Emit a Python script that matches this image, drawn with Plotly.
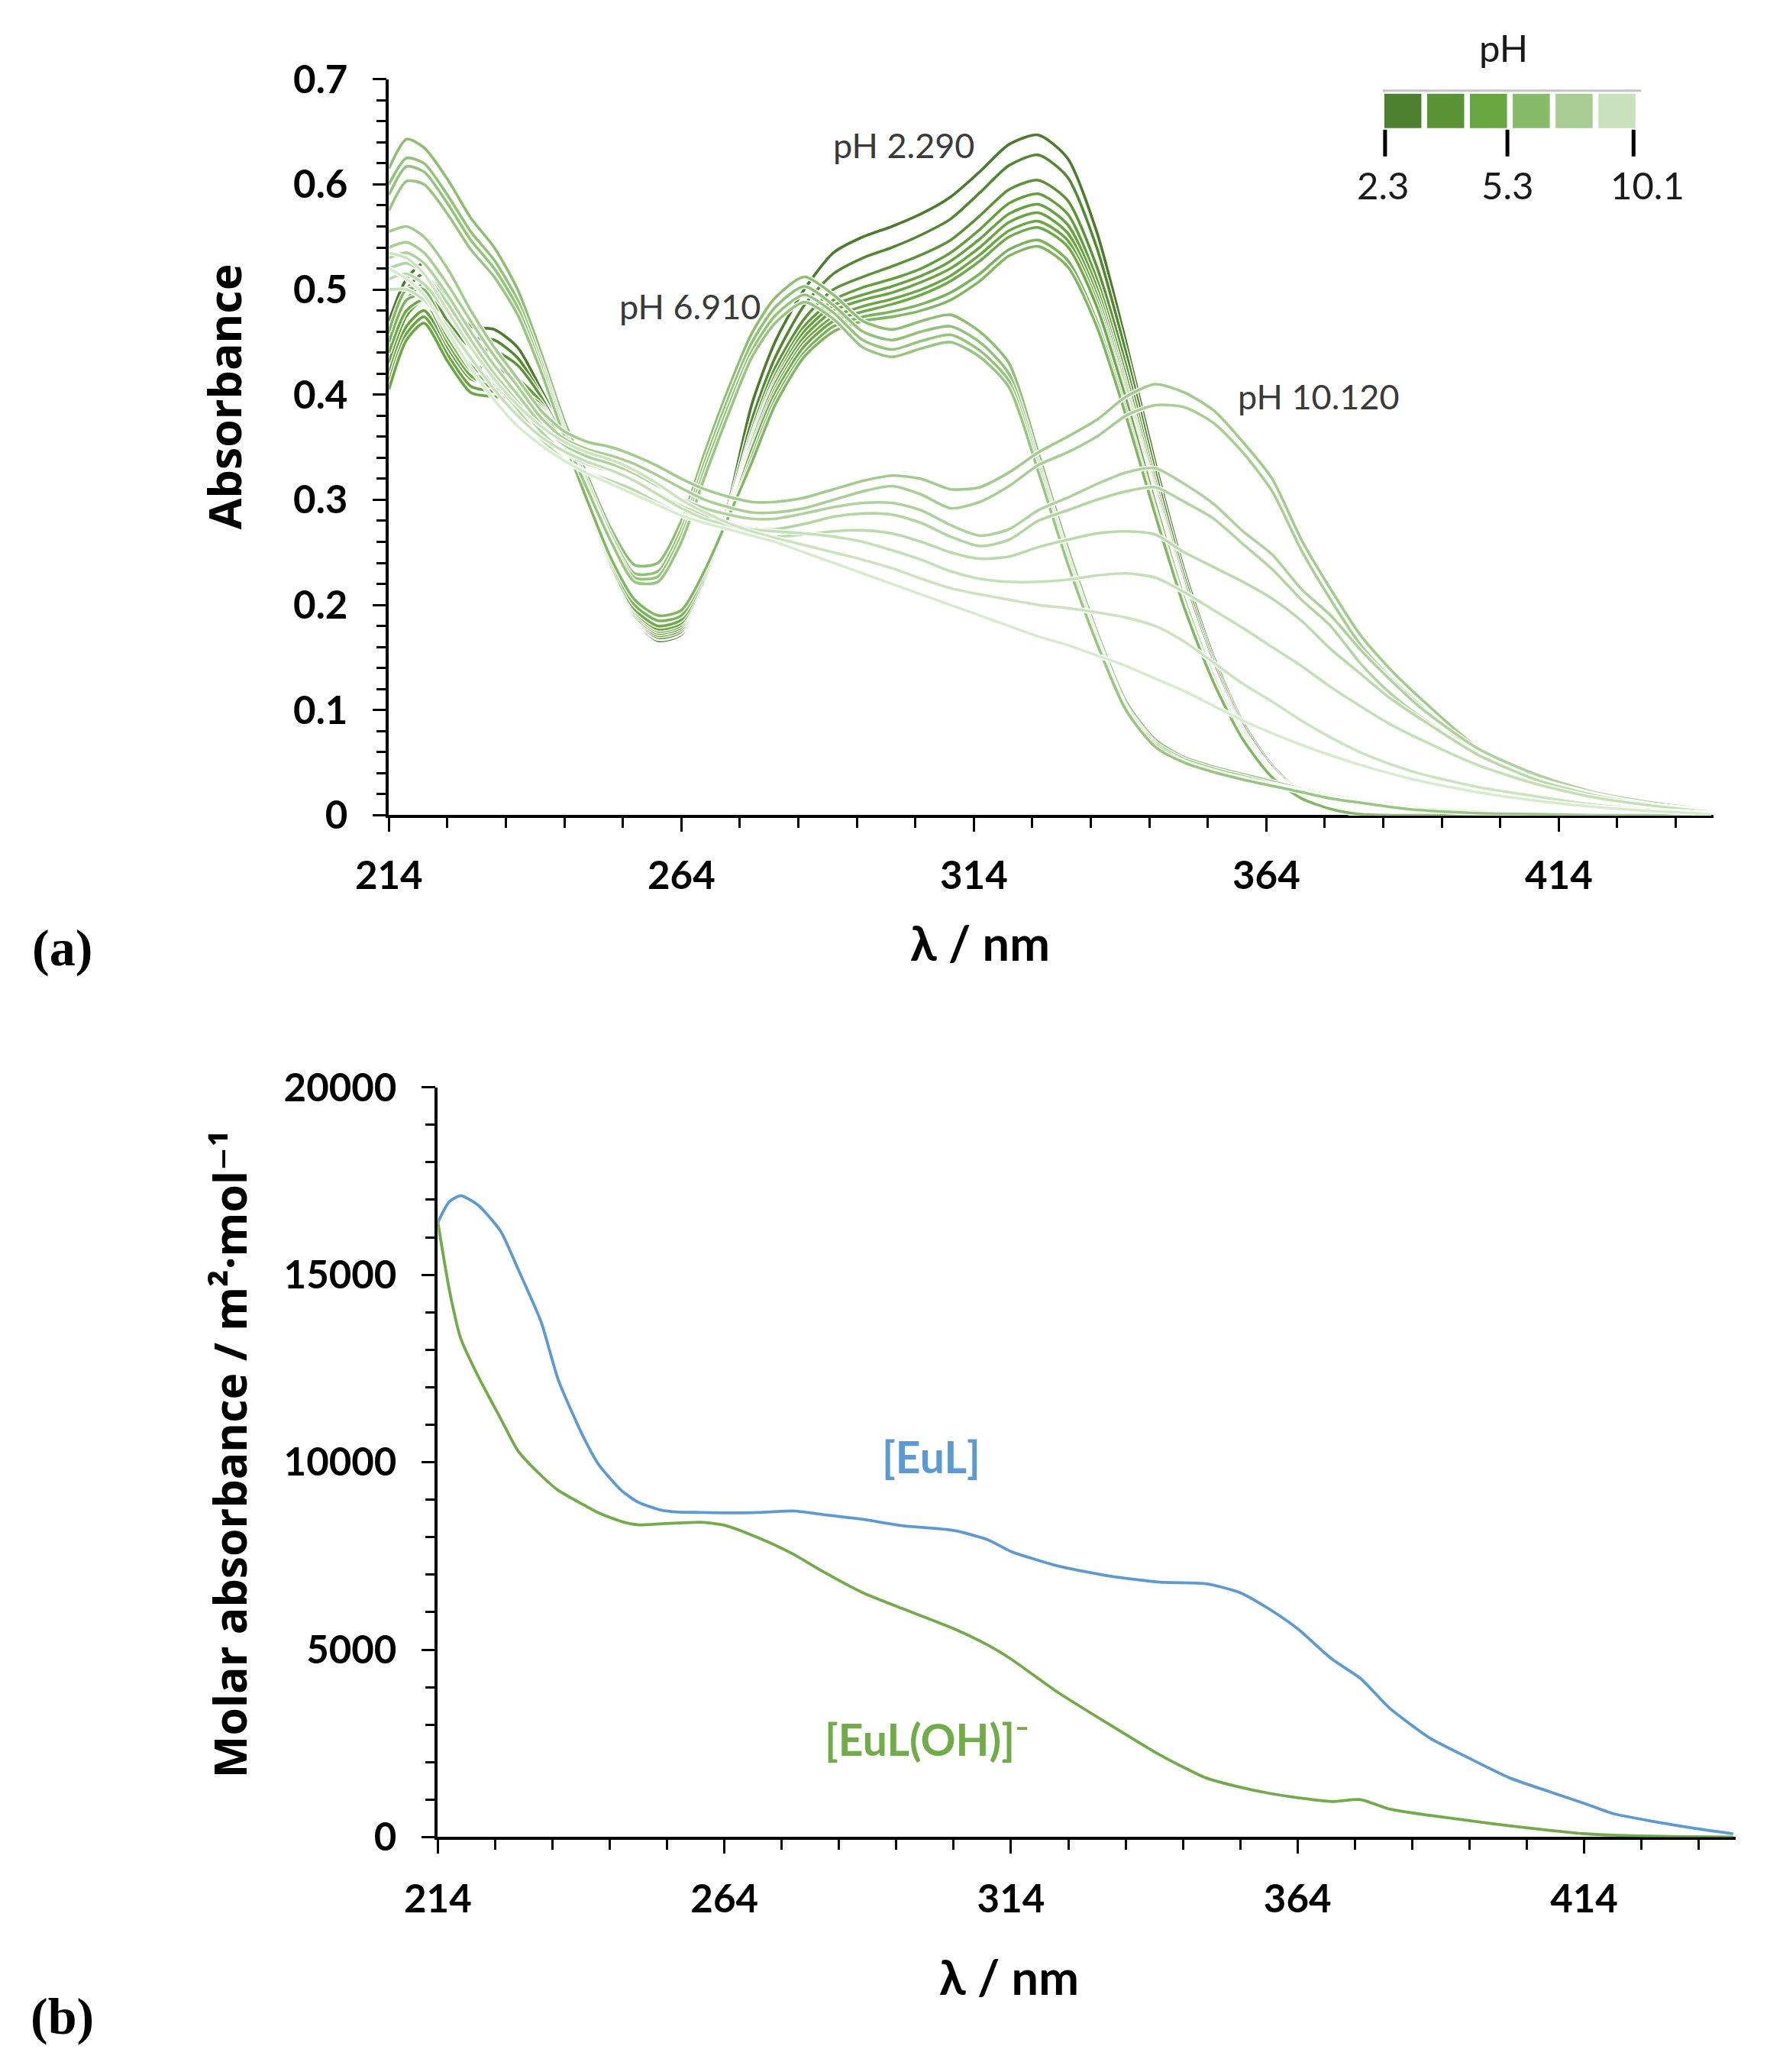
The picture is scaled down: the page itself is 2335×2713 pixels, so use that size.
import plotly.graph_objects as go

FIG_W, FIG_H = 2335, 2713

# ---------------- panel (a): absorbance vs wavelength at different pH ----------------
wavelength_a = [214, 217, 220, 224, 228, 232, 236, 240, 244, 248, 252, 256, 260, 264, 268, 272,
                276, 280, 285, 290, 295, 300, 305, 310, 315, 320, 325, 330, 335, 340, 345, 350,
                355, 360, 365, 370, 375, 380, 385, 390, 400, 410, 420, 430, 440]

# acidic spectra (pH 2.29 ... ~6)
abs_a1 = [0.470, 0.510, 0.525, 0.490, 0.465, 0.462, 0.445, 0.405, 0.360, 0.295, 0.232, 0.186, 0.166, 0.172, 0.222, 0.295,
          0.390, 0.450, 0.500, 0.535, 0.550, 0.560, 0.572, 0.588, 0.612, 0.638, 0.647, 0.625, 0.555, 0.450, 0.335, 0.232,
          0.150, 0.088, 0.047, 0.021, 0.008, 0.002, 0, 0, 0, 0, 0, 0, 0]
abs_a2 = [0.458, 0.500, 0.515, 0.480, 0.455, 0.452, 0.435, 0.400, 0.357, 0.293, 0.231, 0.187, 0.168, 0.174, 0.222, 0.290,
          0.375, 0.435, 0.485, 0.515, 0.530, 0.540, 0.552, 0.567, 0.592, 0.618, 0.628, 0.607, 0.540, 0.440, 0.327, 0.226,
          0.146, 0.085, 0.045, 0.020, 0.008, 0.002, 0, 0, 0, 0, 0, 0, 0]
abs_a3 = [0.445, 0.490, 0.505, 0.470, 0.445, 0.442, 0.428, 0.398, 0.355, 0.292, 0.231, 0.188, 0.169, 0.175, 0.221, 0.287,
          0.365, 0.425, 0.472, 0.500, 0.512, 0.522, 0.533, 0.547, 0.570, 0.595, 0.604, 0.585, 0.522, 0.428, 0.318, 0.220,
          0.142, 0.082, 0.043, 0.019, 0.007, 0.002, 0, 0, 0, 0, 0, 0, 0]
abs_a4 = [0.430, 0.475, 0.490, 0.455, 0.428, 0.425, 0.415, 0.393, 0.353, 0.292, 0.232, 0.189, 0.171, 0.177, 0.222, 0.286,
          0.360, 0.418, 0.465, 0.490, 0.502, 0.510, 0.520, 0.535, 0.557, 0.582, 0.591, 0.572, 0.510, 0.418, 0.312, 0.215,
          0.138, 0.080, 0.042, 0.019, 0.007, 0.002, 0, 0, 0, 0, 0, 0, 0]
abs_a5 = [0.420, 0.465, 0.480, 0.445, 0.415, 0.410, 0.405, 0.390, 0.352, 0.292, 0.233, 0.190, 0.173, 0.179, 0.223, 0.285,
          0.357, 0.413, 0.460, 0.485, 0.495, 0.503, 0.513, 0.527, 0.548, 0.572, 0.581, 0.562, 0.502, 0.410, 0.307, 0.212,
          0.136, 0.079, 0.041, 0.018, 0.007, 0.002, 0, 0, 0, 0, 0, 0, 0]
abs_a6 = [0.412, 0.458, 0.474, 0.438, 0.408, 0.403, 0.400, 0.388, 0.351, 0.292, 0.234, 0.192, 0.175, 0.181, 0.224, 0.284,
          0.354, 0.410, 0.455, 0.480, 0.490, 0.497, 0.507, 0.520, 0.540, 0.564, 0.573, 0.554, 0.495, 0.405, 0.303, 0.209,
          0.134, 0.077, 0.040, 0.018, 0.006, 0.001, 0, 0, 0, 0, 0, 0, 0]
abs_a7 = [0.405, 0.452, 0.468, 0.432, 0.402, 0.398, 0.397, 0.386, 0.350, 0.293, 0.236, 0.194, 0.177, 0.183, 0.225, 0.283,
          0.350, 0.405, 0.450, 0.474, 0.484, 0.491, 0.500, 0.513, 0.533, 0.556, 0.565, 0.547, 0.489, 0.400, 0.300, 0.207,
          0.132, 0.076, 0.039, 0.017, 0.006, 0.001, 0, 0, 0, 0, 0, 0, 0]
abs_a8 = [0.440, 0.480, 0.490, 0.450, 0.418, 0.406, 0.400, 0.386, 0.351, 0.294, 0.238, 0.196, 0.180, 0.186, 0.227, 0.282,
          0.347, 0.401, 0.446, 0.470, 0.479, 0.486, 0.495, 0.508, 0.527, 0.550, 0.559, 0.541, 0.484, 0.396, 0.297, 0.205,
          0.131, 0.075, 0.038, 0.017, 0.006, 0.001, 0, 0, 0, 0, 0, 0, 0]
abs_a9 = [0.450, 0.490, 0.495, 0.455, 0.423, 0.410, 0.402, 0.385, 0.352, 0.296, 0.241, 0.200, 0.185, 0.190, 0.230, 0.282,
          0.340, 0.395, 0.440, 0.465, 0.474, 0.479, 0.486, 0.497, 0.515, 0.538, 0.547, 0.528, 0.470, 0.385, 0.290, 0.200,
          0.128, 0.073, 0.037, 0.016, 0.006, 0.001, 0, 0, 0, 0, 0, 0, 0]
abs_a10 = [0.460, 0.500, 0.500, 0.460, 0.428, 0.413, 0.403, 0.384, 0.353, 0.298, 0.244, 0.205, 0.190, 0.195, 0.233, 0.283,
           0.335, 0.390, 0.436, 0.460, 0.470, 0.474, 0.480, 0.490, 0.508, 0.532, 0.541, 0.522, 0.465, 0.380, 0.286, 0.197,
           0.126, 0.072, 0.036, 0.016, 0.006, 0.001, 0, 0, 0, 0, 0, 0, 0]

# near-neutral spectra (pH ~6.9)
abs_i1 = [0.615, 0.643, 0.635, 0.605, 0.568, 0.540, 0.500, 0.440, 0.375, 0.322, 0.272, 0.238, 0.240, 0.280, 0.345, 0.405,
          0.458, 0.492, 0.512, 0.495, 0.470, 0.462, 0.470, 0.476, 0.460, 0.430, 0.345, 0.255, 0.175, 0.108, 0.072, 0.055,
          0.046, 0.039, 0.032, 0.025, 0.019, 0.014, 0.010, 0.007, 0.003, 0.001, 0, 0, 0]
abs_i2 = [0.600, 0.625, 0.620, 0.590, 0.555, 0.528, 0.490, 0.432, 0.368, 0.316, 0.266, 0.230, 0.232, 0.272, 0.336, 0.396,
          0.449, 0.483, 0.503, 0.485, 0.460, 0.452, 0.460, 0.465, 0.450, 0.420, 0.337, 0.248, 0.170, 0.104, 0.069, 0.053,
          0.044, 0.037, 0.030, 0.024, 0.018, 0.013, 0.009, 0.006, 0.003, 0.001, 0, 0, 0]
abs_i3 = [0.590, 0.617, 0.612, 0.582, 0.547, 0.520, 0.483, 0.427, 0.364, 0.312, 0.262, 0.226, 0.227, 0.266, 0.329, 0.388,
          0.441, 0.475, 0.495, 0.478, 0.452, 0.443, 0.451, 0.457, 0.442, 0.413, 0.332, 0.244, 0.167, 0.102, 0.067, 0.051,
          0.042, 0.035, 0.029, 0.023, 0.017, 0.012, 0.008, 0.006, 0.003, 0.001, 0, 0, 0]
abs_i4 = [0.575, 0.603, 0.600, 0.572, 0.538, 0.512, 0.476, 0.422, 0.360, 0.309, 0.260, 0.222, 0.222, 0.260, 0.322, 0.381,
          0.435, 0.468, 0.488, 0.472, 0.445, 0.436, 0.444, 0.450, 0.436, 0.407, 0.327, 0.240, 0.164, 0.100, 0.065, 0.050,
          0.041, 0.034, 0.028, 0.022, 0.016, 0.012, 0.008, 0.005, 0.002, 0.001, 0, 0, 0]

# basic spectra (up to pH 10.12)
abs_b1 = [0.555, 0.560, 0.550, 0.520, 0.480, 0.445, 0.415, 0.385, 0.365, 0.355, 0.350, 0.342, 0.332, 0.320, 0.310, 0.303,
          0.298, 0.298, 0.302, 0.310, 0.318, 0.323, 0.320, 0.310, 0.312, 0.326, 0.345, 0.360, 0.376, 0.398, 0.410, 0.402,
          0.385, 0.355, 0.320, 0.262, 0.215, 0.172, 0.140, 0.113, 0.065, 0.037, 0.021, 0.011, 0.004]
abs_b2 = [0.540, 0.545, 0.535, 0.505, 0.470, 0.437, 0.408, 0.378, 0.358, 0.348, 0.342, 0.334, 0.323, 0.311, 0.300, 0.293,
          0.288, 0.288, 0.292, 0.300, 0.308, 0.313, 0.305, 0.292, 0.298, 0.313, 0.333, 0.345, 0.360, 0.380, 0.390, 0.388,
          0.373, 0.345, 0.308, 0.252, 0.205, 0.163, 0.132, 0.106, 0.060, 0.034, 0.019, 0.010, 0.003]
abs_b3 = [0.530, 0.535, 0.525, 0.495, 0.460, 0.428, 0.400, 0.372, 0.352, 0.341, 0.334, 0.325, 0.313, 0.301, 0.292, 0.286,
          0.282, 0.282, 0.287, 0.293, 0.297, 0.297, 0.290, 0.276, 0.266, 0.272, 0.290, 0.302, 0.315, 0.326, 0.330, 0.315,
          0.296, 0.270, 0.248, 0.215, 0.190, 0.158, 0.130, 0.104, 0.064, 0.039, 0.022, 0.012, 0.005]
abs_b4 = [0.520, 0.525, 0.515, 0.487, 0.452, 0.420, 0.393, 0.365, 0.345, 0.334, 0.327, 0.318, 0.306, 0.294, 0.285, 0.278,
          0.273, 0.272, 0.277, 0.284, 0.287, 0.286, 0.278, 0.265, 0.256, 0.262, 0.280, 0.290, 0.300, 0.308, 0.312, 0.298,
          0.282, 0.258, 0.234, 0.205, 0.180, 0.145, 0.117, 0.095, 0.059, 0.035, 0.020, 0.010, 0.004]
abs_b5 = [0.510, 0.515, 0.505, 0.478, 0.445, 0.413, 0.386, 0.358, 0.338, 0.326, 0.318, 0.309, 0.297, 0.286, 0.278, 0.272,
          0.267, 0.265, 0.267, 0.270, 0.271, 0.268, 0.260, 0.250, 0.244, 0.246, 0.255, 0.262, 0.268, 0.270, 0.267, 0.250,
          0.236, 0.222, 0.206, 0.185, 0.158, 0.135, 0.112, 0.093, 0.058, 0.034, 0.019, 0.010, 0.004]
abs_l3 = [0.500, 0.500, 0.490, 0.465, 0.435, 0.405, 0.380, 0.360, 0.346, 0.336, 0.328, 0.318, 0.305, 0.292, 0.282, 0.276,
          0.272, 0.270, 0.268, 0.265, 0.260, 0.252, 0.243, 0.232, 0.225, 0.222, 0.222, 0.224, 0.228, 0.230, 0.226, 0.212,
          0.195, 0.178, 0.160, 0.142, 0.122, 0.104, 0.087, 0.073, 0.048, 0.030, 0.017, 0.009, 0.003]
abs_l1 = [0.535, 0.530, 0.515, 0.480, 0.445, 0.415, 0.390, 0.370, 0.355, 0.345, 0.338, 0.328, 0.315, 0.300, 0.288, 0.278,
          0.270, 0.264, 0.257, 0.250, 0.243, 0.235, 0.225, 0.216, 0.210, 0.205, 0.200, 0.197, 0.193, 0.188, 0.180, 0.165,
          0.145, 0.125, 0.108, 0.090, 0.074, 0.060, 0.049, 0.040, 0.027, 0.018, 0.010, 0.005, 0.002]
abs_l2 = [0.520, 0.510, 0.495, 0.460, 0.425, 0.395, 0.370, 0.352, 0.337, 0.325, 0.315, 0.305, 0.295, 0.285, 0.278, 0.272,
          0.266, 0.260, 0.250, 0.240, 0.230, 0.220, 0.210, 0.200, 0.190, 0.180, 0.170, 0.162, 0.152, 0.142, 0.130, 0.118,
          0.104, 0.090, 0.078, 0.067, 0.057, 0.048, 0.040, 0.033, 0.022, 0.014, 0.008, 0.004, 0.001]

spectra_a = [abs_a1, abs_a2, abs_a3, abs_a4, abs_a5, abs_a6, abs_a7, abs_a8, abs_a9, abs_a10,
             abs_i1, abs_i2, abs_i3, abs_i4,
             abs_b1, abs_b2, abs_b3, abs_b4, abs_b5, abs_l3, abs_l1, abs_l2]
spectra_colors = ["#4a7c2b", "#52892f", "#5a9434", "#62a03b", "#65a33d", "#68a640", "#6aa842", "#6dab46",
                  "#79b459", "#80b862",
                  "#8cc070", "#90c375", "#93c579", "#97c77e",
                  "#a1cc8a", "#a6cf90", "#aed39a", "#b3d6a0", "#bbdaa9", "#c4e0b5", "#cce4be", "#d7ebcd"]

ph_ticks = ["2.3", "5.3", "10.1"]
ph_block_colors = ["#4d8030", "#5a9436", "#68a63f", "#87bb6a", "#a7cd94", "#c9e2bd"]

# ---------------- panel (b): molar absorbance of the species ----------------
wavelength_b = [214, 216, 218, 221, 225, 228, 232, 235, 239, 242, 246, 249, 253, 256, 260, 264, 270, 276, 281,
                288, 295, 304, 310, 314, 322, 331, 340, 348, 354, 359, 364, 370, 375, 380, 387, 394, 401, 408,
                414, 419, 426, 433, 440]
eps_eul = [16400, 16950, 17110, 16860, 16150, 15150, 13750, 12200, 10800, 9950, 9250, 8930, 8720, 8670, 8660,
           8650, 8660, 8700, 8610, 8480, 8310, 8180, 7930, 7620, 7240, 6970, 6800, 6760, 6520, 6090, 5560, 4750,
           4230, 3450, 2650, 2100, 1580, 1210, 900, 630, 420, 240, 90]
eps_euloh = [16400, 14600, 13300, 12300, 11150, 10300, 9650, 9250, 8900, 8650, 8420, 8330, 8360, 8380, 8400,
             8320, 7980, 7550, 7100, 6530, 6100, 5560, 5120, 4750, 3880, 3020, 2190, 1580, 1330, 1170, 1050, 950,
             1000, 750, 580, 440, 300, 180, 90, 50, 25, 10, 0]

x_ticks = [214, 264, 314, 364, 414]

# the rendered page maps paper coordinates slightly inset; compensate so that
# target pixel positions (measured on the reference) land where intended
OX, SX = 50.2, 0.98
OY, SY = 40.3, 0.9768


def px(x):
    return ((x - OX) / SX) / FIG_W


def py(y):
    return 1 - ((y - OY) / SY) / FIG_H


fig = go.Figure()

for vals, col in zip(spectra_a, spectra_colors):
    fig.add_trace(go.Scatter(x=wavelength_a, y=vals, mode="lines", xaxis="x", yaxis="y",
                             line=dict(color="white", width=6.5, shape="spline", smoothing=0.7),
                             hoverinfo="skip", showlegend=False))
    fig.add_trace(go.Scatter(x=wavelength_a, y=vals, mode="lines", xaxis="x", yaxis="y",
                             line=dict(color=col, width=3.6, shape="spline", smoothing=0.7),
                             showlegend=False))

fig.add_trace(go.Scatter(x=wavelength_b, y=eps_eul, mode="lines", xaxis="x2", yaxis="y2",
                         line=dict(color="#5b9bd5", width=3.8, shape="spline", smoothing=0.6),
                         showlegend=False))
fig.add_trace(go.Scatter(x=wavelength_b, y=eps_euloh, mode="lines", xaxis="x2", yaxis="y2",
                         line=dict(color="#70ad47", width=3.8, shape="spline", smoothing=0.6),
                         showlegend=False))

tick_font = dict(family="Lato, Liberation Sans, sans-serif", size=51, color="black", weight="bold")
axis_common = dict(showline=True, linecolor="black", linewidth=3.5, ticks="outside", tickcolor="black",
                   tickwidth=3, ticklen=18, showgrid=False, zeroline=False, tickfont=tick_font,
                   layer="below traces")

fig.update_layout(
    width=FIG_W, height=FIG_H,
    margin=dict(l=0, r=0, t=0, b=0),
    paper_bgcolor="white", plot_bgcolor="white",
    showlegend=False,
    xaxis=dict(domain=[px(507), px(2240)], range=[214, 440.5], anchor="y",
               tickmode="array", tickvals=x_ticks, ticklabelstandoff=14,
               minor=dict(tickmode="linear", tick0=214, dtick=10, ticks="outside", ticklen=13,
                          tickwidth=3, tickcolor="black", showgrid=False),
               **axis_common),
    yaxis=dict(domain=[py(1067), py(104)], range=[0, 0.7], anchor="x",
               tickmode="linear", tick0=0, dtick=0.1, ticklabelstandoff=22,
               minor=dict(tickmode="linear", tick0=0, dtick=0.02, ticks="outside", ticklen=13,
                          tickwidth=3, tickcolor="black", showgrid=False),
               **axis_common),
    xaxis2=dict(domain=[px(571), px(2269)], range=[214, 440.5], anchor="y2",
                tickmode="array", tickvals=x_ticks, ticklabelstandoff=16,
                minor=dict(tickmode="linear", tick0=214, dtick=10, ticks="outside", ticklen=13,
                           tickwidth=3, tickcolor="black", showgrid=False),
                **axis_common),
    yaxis2=dict(domain=[py(2404), py(1423)], range=[0, 20000], anchor="x2",
                tickmode="linear", tick0=0, dtick=5000, tickformat="d", ticklabelstandoff=22,
                minor=dict(tickmode="linear", tick0=0, dtick=1000, ticks="outside", ticklen=13,
                           tickwidth=3, tickcolor="black", showgrid=False),
                **axis_common),
)

title_font = dict(family="Open Sans, DejaVu Sans, sans-serif", size=59, color="black", weight="bold")
lam_font = dict(family="Lato, DejaVu Sans, sans-serif", size=63, color="black", weight="bold")
label_font = dict(family="Liberation Serif, DejaVu Serif, serif", size=68, color="black", weight="bold")
note_font = dict(family="Lato, Liberation Sans, sans-serif", size=45, color="#3a3a3a")


def note(text, x, y, font, angle=0):
    fig.add_annotation(text=text, x=px(x), y=py(y), xref="paper", yref="paper",
                       showarrow=False, xanchor="center", yanchor="middle",
                       textangle=angle, font=font)


note("Absorbance", 291, 519, title_font, -90)
note("λ / nm", 1280, 1233, lam_font)
note("Molar absorbance / m²·mol⁻¹", 298, 1903, title_font, -90)
note("λ / nm", 1318, 2586, lam_font)
note("(a)", 80, 1240, label_font)
note("(b)", 80, 2638, label_font)
note("pH 2.290", 1180, 190, note_font)
note("pH 6.910", 901, 401, note_font)
note("pH 10.120", 1723, 519, note_font)
note("[EuL]", 1216, 1906, dict(family="Lato, sans-serif", size=57, color="#5b9bd5", weight="bold"))
note("[EuL(OH)]⁻", 1211, 2276, dict(family="Lato, sans-serif", size=57, color="#70ad47", weight="bold"))

# pH colour key
legend_font = dict(family="Lato, Liberation Sans, sans-serif", size=49, color="#1a1a1a")
note("pH", 1965, 62, legend_font)
fig.add_shape(type="line", xref="paper", yref="paper", x0=px(1807), x1=px(2145), y0=py(119), y1=py(119),
              line=dict(color="#c4c4c4", width=3))
block_w, gap = 48.5, 7.5
for i, c in enumerate(ph_block_colors):
    x0 = 1809 + i * (block_w + gap)
    fig.add_shape(type="rect", xref="paper", yref="paper", x0=px(x0), x1=px(x0 + block_w),
                  y0=py(168), y1=py(123), line=dict(width=0), fillcolor=c)
for xt, lab, xl in zip([1810, 1970, 2135], ph_ticks, [1807, 1970, 2153]):
    fig.add_shape(type="line", xref="paper", yref="paper", x0=px(xt), x1=px(xt), y0=py(170), y1=py(205),
                  line=dict(color="black", width=5))
    note(lab, xl, 242, legend_font)

fig.write_html("out.html")
